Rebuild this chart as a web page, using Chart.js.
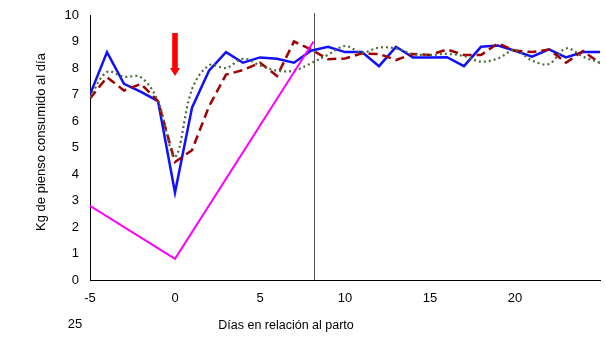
<!DOCTYPE html>
<html><head><meta charset="utf-8">
<script src="https://cdn.jsdelivr.net/npm/chart.js@4.4.1/dist/chart.umd.min.js"></script>
<style>html,body{margin:0;padding:0;background:#fff}#wrap{width:606px;height:352px}</style>
</head><body><div id="wrap"><canvas id="c" width="606" height="352"></canvas></div>
<script>
const days = [-5,-4,-3,-2,-1,0,1,2,3,4,5,6,7,8,9,10,11,12,13,14,15,16,17,18,19,20,21,22,23,24,25];
const blueSeries = [7.0,8.6,7.4,7.1,6.75,3.3,6.5,7.9,8.6,8.2,8.4,8.35,8.2,8.65,8.8,8.6,8.6,8.07,8.8,8.4,8.4,8.41,8.07,8.8,8.85,8.65,8.43,8.7,8.4,8.6,8.6];
const redSeries = [6.85,7.65,7.15,7.4,6.75,4.45,4.9,6.55,7.75,7.92,8.2,7.7,9.0,8.7,8.33,8.36,8.55,8.53,8.3,8.53,8.49,8.7,8.49,8.49,8.93,8.65,8.6,8.7,8.2,8.64,8.18];
const greenSeries = [6.9,7.85,7.67,7.65,6.75,4.65,7.2,8.1,8.0,8.35,8.1,7.9,7.9,8.18,8.5,8.83,8.58,8.77,8.74,8.53,8.49,8.53,8.45,8.24,8.36,8.68,8.28,8.15,8.74,8.43,8.2];
const magentaX = [-5,0,8.15];
const magentaY = [2.8,0.8,9.0];
const vLineX = 8.15;
const arrow = {x:0, yTop:9.32, yTip:7.7};
const xTicks = [-5,0,5,10,15,20];
const wrappedTick = '25';
const yTitle = 'Kg de pienso consumido al día';
const xTitle = 'Días en relación al parto';

const pts = (xs, ys) => xs.map((x,i)=>({x, y: ys[i]}));
const FONT = '13px "Liberation Sans", Arial, sans-serif';

const extras = {
  id:'extras',
  beforeDatasetsDraw(chart){
    const {ctx, scales:{x,y}} = chart;
    const px = Math.round(x.getPixelForValue(vLineX)) + 0.5;
    ctx.save();
    ctx.strokeStyle = '#555';
    ctx.lineWidth = 1;
    ctx.beginPath(); ctx.moveTo(px, chart.chartArea.top - 2); ctx.lineTo(px, y.getPixelForValue(0)); ctx.stroke();
    ctx.restore();
  },
  afterDraw(chart){
    const {ctx, scales:{x,y}} = chart;
    ctx.save();
    const ax = x.getPixelForValue(arrow.x);
    const yt = y.getPixelForValue(arrow.yTop), yp = y.getPixelForValue(arrow.yTip);
    ctx.fillStyle = '#ff0000';
    ctx.fillRect(ax-2.8, yt, 5.6, (yp - yt) - 8);
    ctx.beginPath(); ctx.moveTo(ax-5, yp-8); ctx.lineTo(ax+5, yp-8); ctx.lineTo(ax, yp); ctx.closePath(); ctx.fill();
    ctx.fillStyle = '#000';
    ctx.font = FONT;
    ctx.textAlign = 'center'; ctx.textBaseline = 'middle';
    ctx.fillText(wrappedTick, 75, 324);
    ctx.font = '12.5px "Liberation Sans", Arial, sans-serif';
    ctx.fillText(xTitle, 286, 326);
    ctx.font = FONT;
    ctx.translate(41, 142); ctx.rotate(-Math.PI/2);
    ctx.fillText(yTitle, 0, 0);
    ctx.restore();
  }
};

new Chart(document.getElementById('c'), {
  type:'line',
  data:{datasets:[
    {data:pts(magentaX, magentaY), borderColor:'#ff00ff', borderWidth:2, pointRadius:0, tension:0},
    {data:pts(days, greenSeries), borderColor:'#4d6b3a', borderWidth:2.2, borderDash:[2,3], pointRadius:0, tension:0.35},
    {data:pts(days, redSeries), borderColor:'#a00000', borderWidth:2.5, borderDash:[9,5], pointRadius:0, tension:0},
    {data:pts(days, blueSeries), borderColor:'#1010ff', borderWidth:2.5, pointRadius:0, tension:0}
  ]},
  options:{
    responsive:false, animation:false,
    layout:{padding:{top:15, right:6, left:0, bottom:0}},
    plugins:{legend:{display:false}, tooltip:{enabled:false}},
    scales:{
      x:{type:'linear', min:-5, max:25,
        afterBuildTicks(s){ s.ticks = xTicks.concat([25]).map(v=>({value:v})); },
        afterFit(s){ s.height = 72; },
        grid:{display:false, drawOnChartArea:false, drawTicks:true, tickLength:5, tickColor:'#000'},
        border:{color:'#000', width:1},
        ticks:{color:'#000', font:{family:'"Liberation Sans", Arial, sans-serif', size:13}, padding:6, maxRotation:0, autoSkip:false,
          callback:(v)=> xTicks.includes(v) ? String(v) : ''}
      },
      y:{min:0, max:10,
        afterFit(s){ s.width = 90; },
        grid:{display:false, drawOnChartArea:false, drawTicks:true, tickLength:5, tickColor:'#000'},
        border:{color:'#000', width:1},
        ticks:{stepSize:1, color:'#000', font:{family:'"Liberation Sans", Arial, sans-serif', size:13}, padding:6}
      }
    }
  },
  plugins:[extras]
});
</script></body></html>
